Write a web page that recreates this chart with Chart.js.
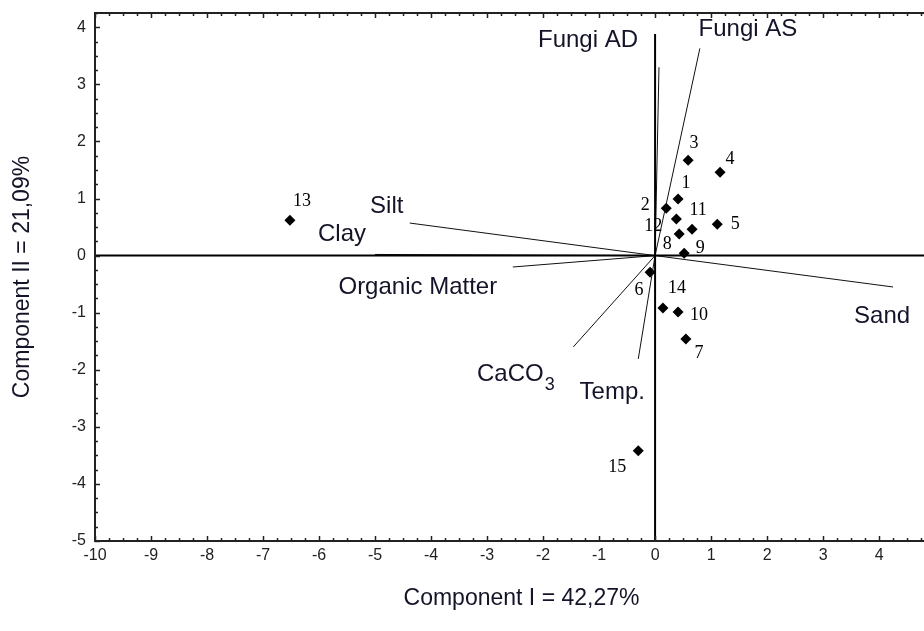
<!DOCTYPE html>
<html>
<head>
<meta charset="utf-8">
<script src="https://cdn.jsdelivr.net/npm/chart.js@4.4.1/dist/chart.umd.min.js"></script>
<style>
  html, body { margin: 0; padding: 0; background: #fff; overflow: hidden; }
  #wrap { width: 948px; height: 631px; }
</style>
</head>
<body>
<div id="wrap"><canvas id="pca"></canvas></div>
<script>
// sample scores
const pointIds = ["1", "2", "3", "4", "5", "6", "7", "8", "9", "10", "11", "12", "13", "14", "15"];
const pointX = [0.41, 0.20, 0.59, 1.16, 1.11, -0.09, 0.55, 0.43, 0.52, 0.41, 0.66, 0.38, -6.52, 0.14, -0.30];
const pointY = [0.99, 0.83, 1.67, 1.46, 0.55, -0.29, -1.46, 0.38, 0.04, -0.99, 0.46, 0.64, 0.62, -0.92, -3.42];

// variable loadings (vectors from origin)
const varNames = ["Fungi AD", "Fungi AS", "Silt", "Clay", "Organic Matter", "Sand", "CaCO3", "Temp."];
const varX = [0.07, 0.80, -4.38, -5.00, -2.54, 4.25, -1.46, -0.30];
const varY = [3.30, 3.63, 0.57, 0.02, -0.20, -0.55, -1.60, -1.81];

const xTicks = [-10, -9, -8, -7, -6, -5, -4, -3, -2, -1, 0, 1, 2, 3, 4];
const yTicks = [4, 3, 2, 1, 0, -1, -2, -3, -4, -5];
const xMin = -10, xMax = 5.23, yMin = -5, yMax = 4.25;

// label offsets in px
const pointLabelOff = [[8,-16],[-21,-3],[6,-17],[10,-13],[18,0],[-11,18],[13,14],[-12,10],[16,-5],[21,3],[6,-19],[-23,7],[12,-19],[14,-20],[-21,16]];
const varLabelOff = [[-71,-27],[48,-19],[-23,-17],[-33,-20],[-95,20],[-11,29],[-63,27],[-26,33]];

const datasets = [];
// zero lines
datasets.push({ data: [{x: xMin, y: 0}, {x: xMax, y: 0}], showLine: true, borderColor: "#000", borderWidth: 2, pointRadius: 0 });
datasets.push({ data: [{x: 0, y: yMin}, {x: 0, y: 3.88}], showLine: true, borderColor: "#000", borderWidth: 2, pointRadius: 0 });
varNames.forEach((n, i) => {
    datasets.push({
        label: n,
        data: [{x: 0, y: 0}, {x: varX[i], y: varY[i]}],
        showLine: true, borderColor: "#111", borderWidth: 1, pointRadius: 0
    });
});
datasets.push({
    label: "samples",
    data: pointX.map((x, i) => ({x: x, y: pointY[i]})),
    pointStyle: "rectRot", pointRadius: 5.5, backgroundColor: "#000", borderColor: "#000", borderWidth: 0
});

const decor = {
    id: "decor",
    afterDatasetsDraw(chart) {
        const ctx = chart.ctx;
        const xs = chart.scales.x, ys = chart.scales.y;
        const a = chart.chartArea;
        ctx.save();
        // frame: left, top, bottom
        ctx.strokeStyle = "#222";
        ctx.lineWidth = 2;
        ctx.beginPath();
        ctx.moveTo(a.right + 2, a.top);
        ctx.lineTo(a.left, a.top);
        ctx.lineTo(a.left, a.bottom);
        ctx.lineTo(a.right + 2, a.bottom);
        ctx.stroke();
        // inward ticks every 0.25
        ctx.lineWidth = 1.5;
        ctx.beginPath();
        for (let v = xMin; v <= xMax; v += 0.25) {
            const px = Math.round(xs.getPixelForValue(v)) + 0.5;
            const len = Number.isInteger(v) ? 5 : 3;
            ctx.moveTo(px, a.top); ctx.lineTo(px, a.top + len);
            ctx.moveTo(px, a.bottom); ctx.lineTo(px, a.bottom - len);
        }
        for (let v = yMin; v <= yMax; v += 0.25) {
            const py = Math.round(ys.getPixelForValue(v)) + 0.5;
            const len = Number.isInteger(v) ? 5 : 3;
            ctx.moveTo(a.left, py); ctx.lineTo(a.left + len, py);
        }
        ctx.stroke();

        // sample labels
        ctx.fillStyle = "#000";
        ctx.font = "18px 'Liberation Serif'";
        ctx.textAlign = "center";
        ctx.textBaseline = "middle";
        pointIds.forEach((id, i) => {
            const px = xs.getPixelForValue(pointX[i]) + pointLabelOff[i][0];
            const py = ys.getPixelForValue(pointY[i]) + pointLabelOff[i][1];
            ctx.fillText(id, px, py);
        });

        // variable labels
        ctx.fillStyle = "#141428";
        varNames.forEach((n, i) => {
            const px = xs.getPixelForValue(varX[i]) + varLabelOff[i][0];
            const py = ys.getPixelForValue(varY[i]) + varLabelOff[i][1];
            if (n === "CaCO3") {
                ctx.font = "24px 'Liberation Sans'";
                const w = ctx.measureText("CaCO").width;
                ctx.textAlign = "left";
                ctx.fillText("CaCO", px - w / 2, py);
                ctx.font = "18px 'Liberation Sans'";
                ctx.fillText("3", px + w / 2 + 1, py + 11);
                ctx.textAlign = "center";
            } else {
                ctx.font = "24px 'Liberation Sans'";
                ctx.fillText(n, px, py);
            }
        });
        ctx.restore();
    }
};

new Chart(document.getElementById("pca"), {
    type: "scatter",
    data: { datasets: datasets },
    options: {
        responsive: true,
        maintainAspectRatio: false,
        animation: false,
        layout: { autoPadding: false, padding: { top: 13, right: 0, left: 0, bottom: 0 } },
        plugins: { legend: { display: false }, tooltip: { enabled: false } },
        scales: {
            x: {
                type: "linear",
                min: xMin, max: xMax,
                afterBuildTicks: s => { s.ticks = xTicks.map(v => ({value: v})); },
                afterFit: s => { s.height = 90; s.paddingLeft = 0; s.paddingRight = 0; },
                grid: { display: false, drawTicks: false },
                border: { display: false },
                ticks: { color: "#222", font: { family: "Liberation Sans", size: 16 }, padding: 5, maxRotation: 0, autoSkip: false,
                    callback: v => String(v) },
                title: { display: true, text: "Component I = 42,27%", color: "#141428",
                    font: { family: "Liberation Sans", size: 23 }, padding: { top: 0, bottom: 19 } }
            },
            y: {
                type: "linear",
                min: yMin, max: yMax,
                afterBuildTicks: s => { s.ticks = yTicks.map(v => ({value: v})); },
                afterFit: s => { s.width = 95; s.paddingTop = 0; s.paddingBottom = 0; },
                grid: { display: false, drawTicks: false },
                border: { display: false },
                ticks: { color: "#222", font: { family: "Liberation Sans", size: 16 }, padding: 9, autoSkip: false,
                    callback: v => String(v) },
                title: { display: true, text: "Component II = 21,09%", color: "#141428",
                    font: { family: "Liberation Sans", size: 23 }, padding: { top: 9, bottom: 0 } }
            }
        }
    },
    plugins: [decor]
});
</script>
</body>
</html>
